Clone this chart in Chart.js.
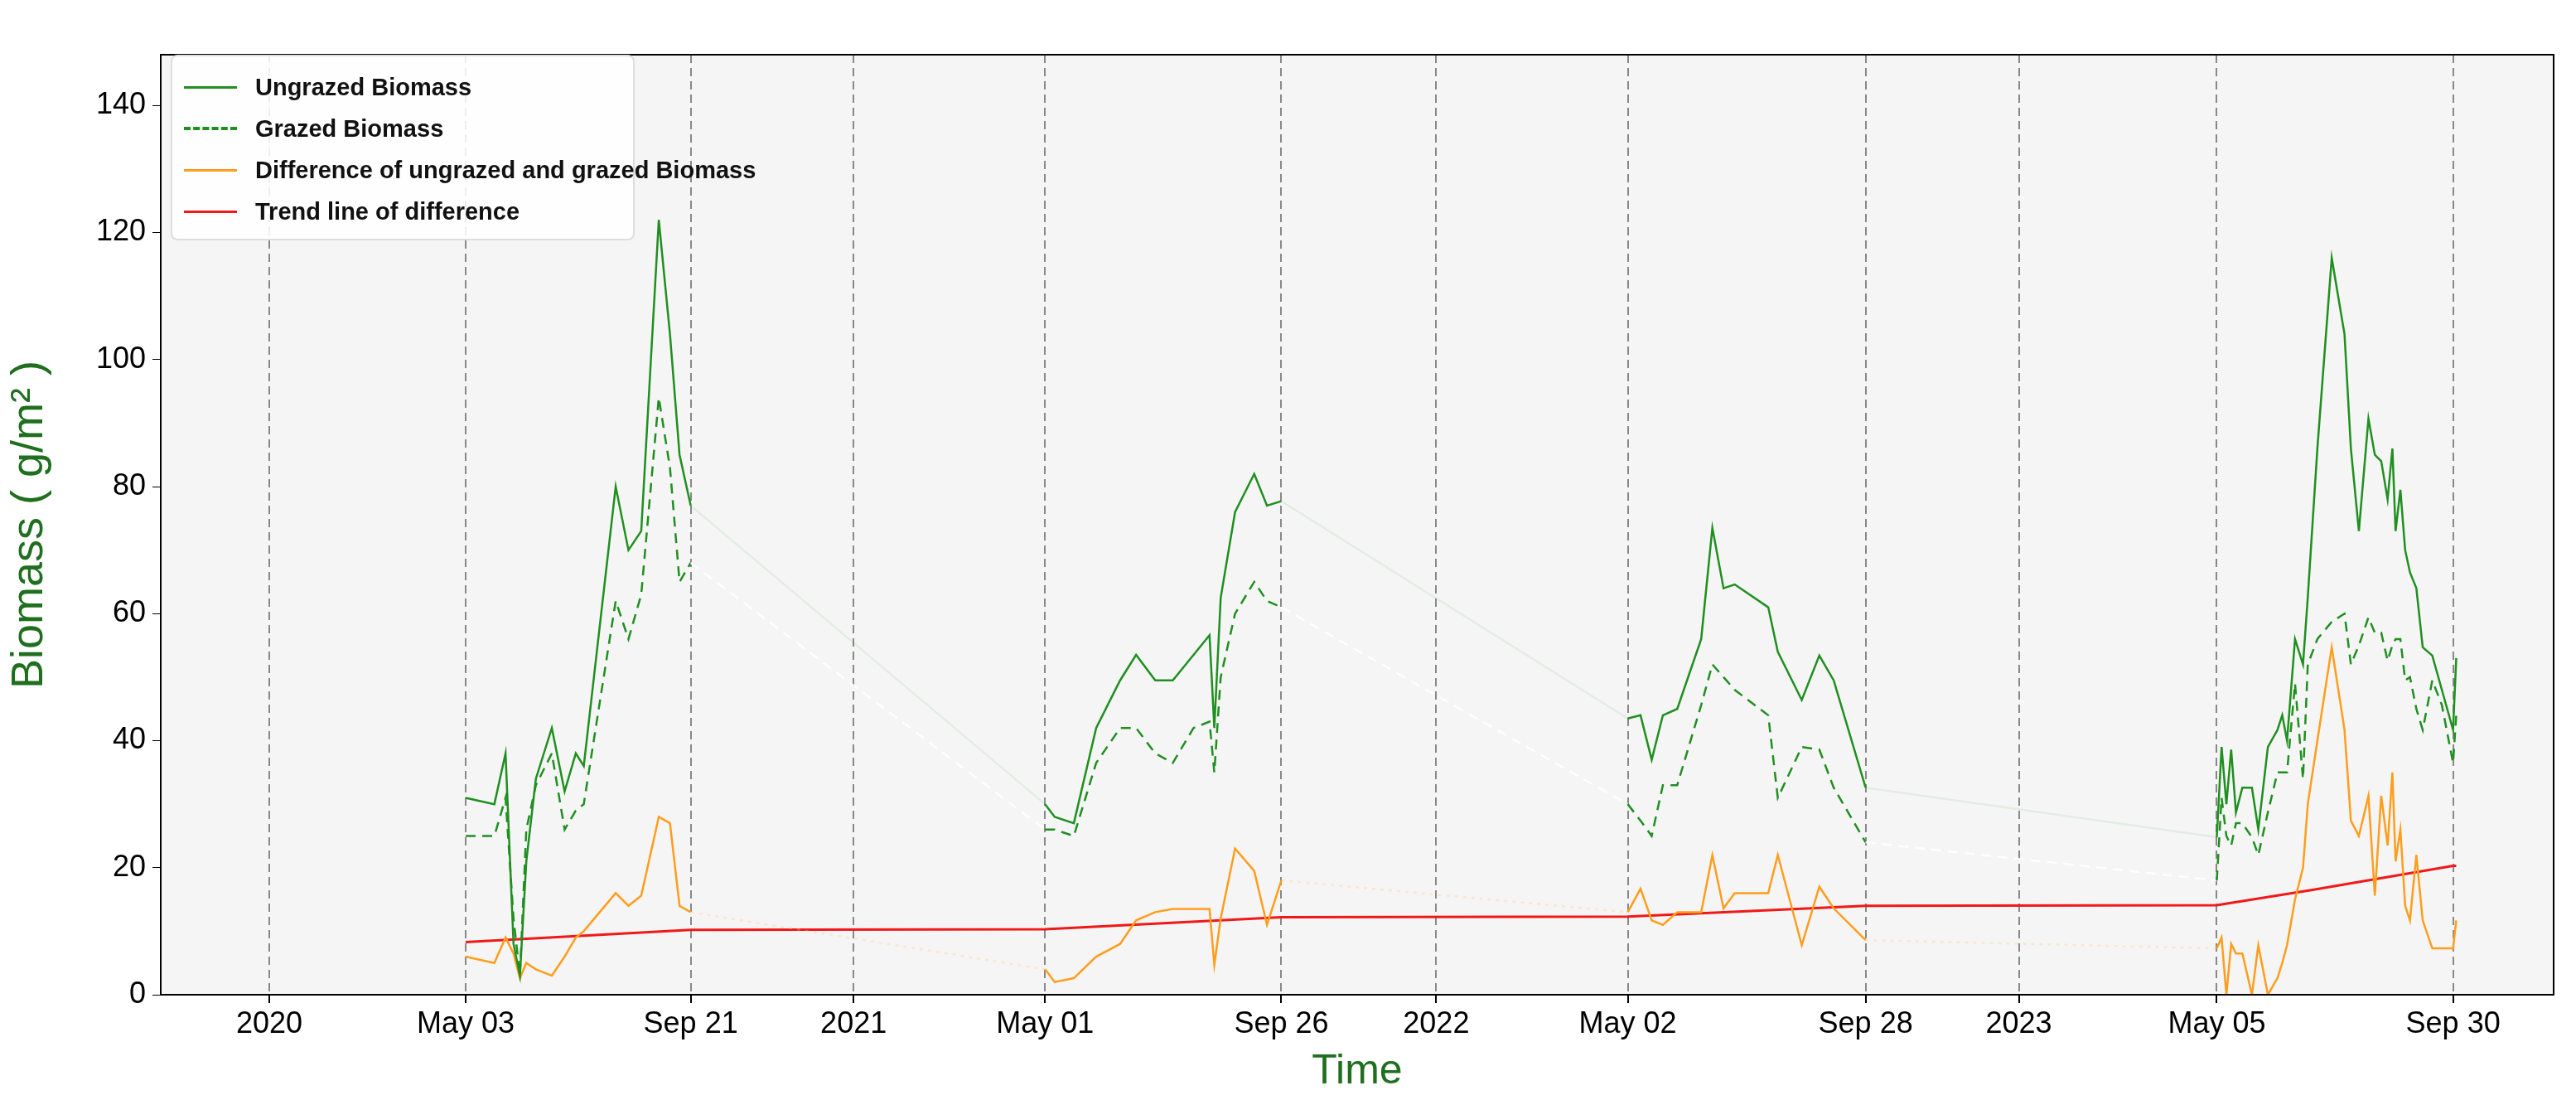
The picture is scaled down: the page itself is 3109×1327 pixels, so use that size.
<!DOCTYPE html>
<html>
<head>
<meta charset="utf-8">
<script src="https://cdn.jsdelivr.net/npm/chart.js@4.4.0/dist/chart.umd.min.js"></script>
<style>
  body { margin: 0; background: #fff; font-family: "Liberation Sans", Arial, sans-serif; }
  #wrap { position: relative; width: 3109px; height: 1327px; }
  #legend { position: absolute; left: 206px; top: 66px; width: 560px; height: 224px; background: rgba(255,255,255,0.85);
    border: 2px solid #ddd; border-radius: 8px; box-sizing: border-box; padding: 12px 0 0 14px; }
  .row { display: flex; align-items: center; height: 50px; font-weight: bold; font-size: 29px; color: #111; white-space: nowrap; }
  .sw { width: 64px; height: 0; margin-right: 22px; border-top: 3px solid; flex: none; }
</style>
</head>
<body>
<div id="wrap">
  <canvas id="chart" width="3109" height="1327"></canvas>
  <div id="legend">
    <div class="row"><span class="sw" style="border-color:#1f8f1f"></span>Ungrazed Biomass</div>
    <div class="row"><span class="sw" style="border-top:4px dashed #1f8f1f"></span>Grazed Biomass</div>
    <div class="row"><span class="sw" style="border-color:#ff9d1c"></span>Difference of ungrazed and grazed Biomass</div>
    <div class="row"><span class="sw" style="border-color:#f01818"></span>Trend line of difference</div>
  </div>
</div>
<script>
// days since 2020-01-01
var tickDays = [0, 123, 264, 366, 486, 634, 731, 851, 1000, 1096, 1220, 1368]
var tickLabels = ['2020', 'May 03', 'Sep 21', '2021', 'May 01', 'Sep 26', '2022', 'May 02', 'Sep 28', '2023', 'May 05', 'Sep 30']

var days = [123,141,148,153,157,161,167,177,185,192,197,217,225,233,244,251,257,264,
  486,492,504,518,533,543,555,566,579,589,592,596,605,617,625,634,
  851,859,866,873,882,897,904,911,918,939,945,960,971,980,1000,
  1220,1223,1226,1229,1232,1236,1242,1246,1252,1258,1261,1264,1269,1274,1277,1283,1292,1300,1304,1309,1315,1319,1323,1327,1330,1332,1335,1338,1341,1345,1349,1355,1361,1368,1370]

var ungrazed = [31,30,38,8,3,21,34,42,32,38,36,80,70,73,122,104,85,77,
  30,28,27,42,49.5,53.5,49.5,49.5,53.5,56.6,42,62.5,76,82,77,77.7,
  43.5,44,37,44,45,56,73.5,64,64.6,61,54,46.4,53.4,49.5,32.6,
  24.8,39,30,38.6,28.7,32.6,32.6,26,39,41.7,44,40,56,52,62.6,86,116,104,86,73,90.7,85,84,78,86,73,79.5,70,66.5,64,54.7,53.4,48,41.7,53]

var grazed = [25,25,31,12,3,26,33,38,26,29,30,62,56,63,94,83,65,68,
  26,26,25,36.5,42,42,38,36.5,42,43,35,50,60,65,62,61,
  30,27.4,25,33,33,45.6,52,50,48,44,31,39,38.6,32.6,24,
  18,31,25,23.5,27,27,24.8,22,28.7,35,35,35,49,34,52,56,58.7,60,52,55,59.4,57,57,52.6,55,56,56,49.5,50,45,41.7,49.5,45.6,36.5,44]

var difference = [6,5,9,6.5,2.6,5,4,3,6,9,10,16,14,15.6,28,27,14,13,
  4,2,2.6,6,8,11.7,13,13.5,13.5,13.5,4.7,12,23,19.5,11,18,
  13,16.7,11.7,11,13,13,22,13.6,16,16,22,7.8,17,13.6,8.6,
  7.3,9,0,8,6.5,6.5,0,7.8,0,2.6,5,7.8,15,20,30,40,54.7,41.7,27.4,25,31.3,15.6,31.3,23.5,35,21,26,14,11.7,22,11.7,7.3,7.3,7.3,11.7]

var trendDays = [123, 264, 486, 634, 851, 1000, 1220, 1280, 1368, 1370]
var trendValues = [8.3, 10.2, 10.3, 12.2, 12.3, 14, 14.1, 16.5, 20.3, 20.3]

function pts(xs, ys) { return xs.map(function (x, i) { return { x: x, y: ys[i] } }) }
function gap(ctx) { return ctx.p1.parsed.x - ctx.p0.parsed.x > 60 }

var plotBg = {
  id: 'plotBg',
  beforeDraw: function (chart) {
    var a = chart.chartArea, c = chart.ctx
    c.save(); c.fillStyle = '#f5f5f5'; c.fillRect(a.left, a.top, a.right - a.left, a.bottom - a.top); c.restore()
  }
}

new Chart(document.getElementById('chart'), {
  type: 'line',
  data: {
    datasets: [
      { data: pts(days, ungrazed), borderColor: '#1f8f1f', borderWidth: 2.5, pointRadius: 0, tension: 0,
        segment: { borderColor: function (ctx) { return gap(ctx) ? 'rgba(31,143,31,0.08)' : undefined } } },
      { data: pts(days, grazed), borderColor: '#1f8f1f', borderWidth: 2.5, borderDash: [12, 8], pointRadius: 0, tension: 0,
        segment: { borderColor: function (ctx) { return gap(ctx) ? 'rgba(255,255,255,0.9)' : undefined } } },
      { data: pts(days, difference), borderColor: '#ff9d1c', borderWidth: 2.5, pointRadius: 0, tension: 0,
        segment: { borderColor: function (ctx) { return gap(ctx) ? 'rgba(255,200,120,0.3)' : undefined },
                   borderDash: function (ctx) { return gap(ctx) ? [4, 6] : undefined } } },
      { data: pts(trendDays, trendValues), borderColor: '#f01818', borderWidth: 3, pointRadius: 0, tension: 0 }
    ]
  },
  options: {
    responsive: false,
    animation: false,
    layout: { padding: { top: 66, right: 27, left: 0, bottom: 0 } },
    plugins: { legend: { display: false }, tooltip: { enabled: false } },
    scales: {
      x: {
        type: 'linear', min: -68, max: 1431,
        afterBuildTicks: function (axis) { axis.ticks = tickDays.map(function (v) { return { value: v } }) },
        afterFit: function (axis) { axis.height = 127 },
        ticks: { color: '#000', font: { size: 36 }, padding: 4,
          callback: function (v) { var i = tickDays.indexOf(v); return i < 0 ? '' : tickLabels[i] } },
        grid: { color: '#888', lineWidth: 2, tickLength: 10, tickColor: '#000', drawOnChartArea: true },
        border: { display: true, color: '#000', width: 2, dash: [10, 6] },
        title: { display: true, text: 'Time', color: '#1f6f1f', font: { size: 50 }, padding: { top: 0 } }
      },
      y: {
        min: 0, max: 148,
        afterBuildTicks: function (axis) { axis.ticks = [0,20,40,60,80,100,120,140].map(function (v) { return { value: v } }) },
        afterFit: function (axis) { axis.width = 194 },
        ticks: { color: '#000', font: { size: 36 }, padding: 8 },
        grid: { drawOnChartArea: false, tickLength: 10, tickColor: '#000' },
        border: { display: true, color: '#000', width: 2 },
        title: { display: true, text: 'Biomass ( g/m² )', color: '#1f6f1f', font: { size: 54 } }
      }
    }
  },
  plugins: [plotBg, {
    id: 'frame',
    afterDraw: function (chart) {
      var a = chart.chartArea, c = chart.ctx
      c.save(); c.strokeStyle = '#000'; c.lineWidth = 2; c.setLineDash([])
      c.strokeRect(a.left, a.top, a.right - a.left, a.bottom - a.top); c.restore()
    }
  }]
})
</script>
</body>
</html>
